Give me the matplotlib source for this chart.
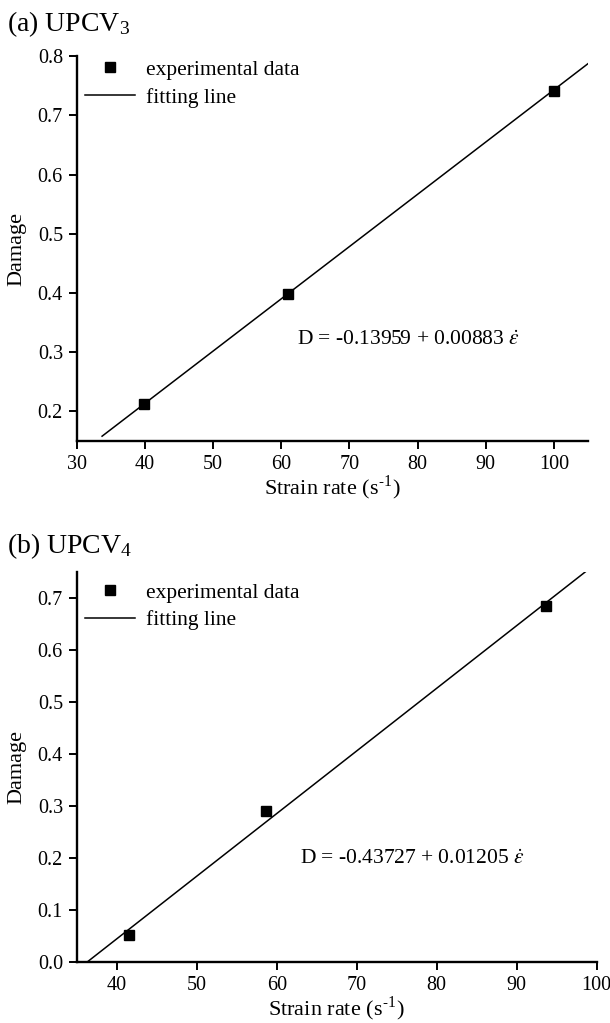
import numpy as np
import matplotlib.pyplot as plt

plt.rcParams['font.family'] = ['Liberation Serif', 'DejaVu Serif']
plt.rcParams['mathtext.fontset'] = 'stix'

# UPCV3 measurements and fit
rate_a = [39.8, 61.0, 100.0]
damage_a = [0.212, 0.398, 0.742]
fit_a = (-0.13959, 0.00883)

# UPCV4 measurements and fit
rate_b = [41.5, 58.7, 93.7]
damage_b = [0.052, 0.290, 0.686]
fit_b = (-0.43727, 0.01205)


def panel(ax, rate, damage, fit, xfit, eq_pos, xlim, ylim, xticks, yticks, leg_y):
    xs = np.array(xfit)
    ax.plot(rate, damage, 's', color='black', markersize=7, label='experimental data')
    ax.plot(xs, fit[0] + fit[1] * xs, '-', color='black', lw=1.1, label='fitting line')
    ax.set_xlim(*xlim)
    ax.set_ylim(*ylim)
    ax.set_xticks(xticks)
    ax.set_yticks(yticks)
    ax.yaxis.set_major_formatter(plt.FormatStrFormatter('%.1f'))
    for s in ['top', 'right']:
        ax.spines[s].set_visible(False)
    for s in ['left', 'bottom']:
        ax.spines[s].set_linewidth(1.7)
    ax.tick_params(direction='out', length=6, width=1.4, labelsize=14.5, pad=4)
    ax.set_xlabel('Strain rate (s$^{\\mathregular{\\text{-}1}}$)', fontsize=16, labelpad=0)
    ax.set_ylabel('Damage', fontsize=16, labelpad=8)
    ax.legend(loc='upper left', bbox_to_anchor=(0.0, leg_y), borderaxespad=0,
              frameon=False, fontsize=15.5, handlelength=2.3, handletextpad=0.5,
              labelspacing=0.35)
    ax.text(eq_pos[0], eq_pos[1],
            'D = -%.5f + %.5f $\\dot{\\varepsilon}$' % (-fit[0], fit[1]),
            fontsize=15.5, va='center', transform=ax.transData)


fig = plt.figure(figsize=(6.1, 10.23), dpi=100)
ax1 = fig.add_axes([0.126, 0.569, 0.838, 0.376])
ax2 = fig.add_axes([0.126, 0.0596, 0.852, 0.381])

panel(ax1, rate_a, damage_a, fit_a, [33.7, 105.5], (62.35, 0.319),
      (30, 105), (0.15, 0.8), range(30, 101, 10), np.arange(0.2, 0.81, 0.1), 1.013)
panel(ax2, rate_b, damage_b, fit_b, [36.3, 100], (62.9, 0.197),
      (35, 100), (0.0, 0.75), range(40, 101, 10), np.arange(0.0, 0.71, 0.1), 0.995)

fig.text(0.011, 0.970, '(a) UPCV$_{\\mathregular{3}}$', fontsize=20, va='baseline')
fig.text(0.011, 0.459, '(b) UPCV$_{\\mathregular{4}}$', fontsize=20, va='baseline')

fig.savefig('out.png', dpi=100)
